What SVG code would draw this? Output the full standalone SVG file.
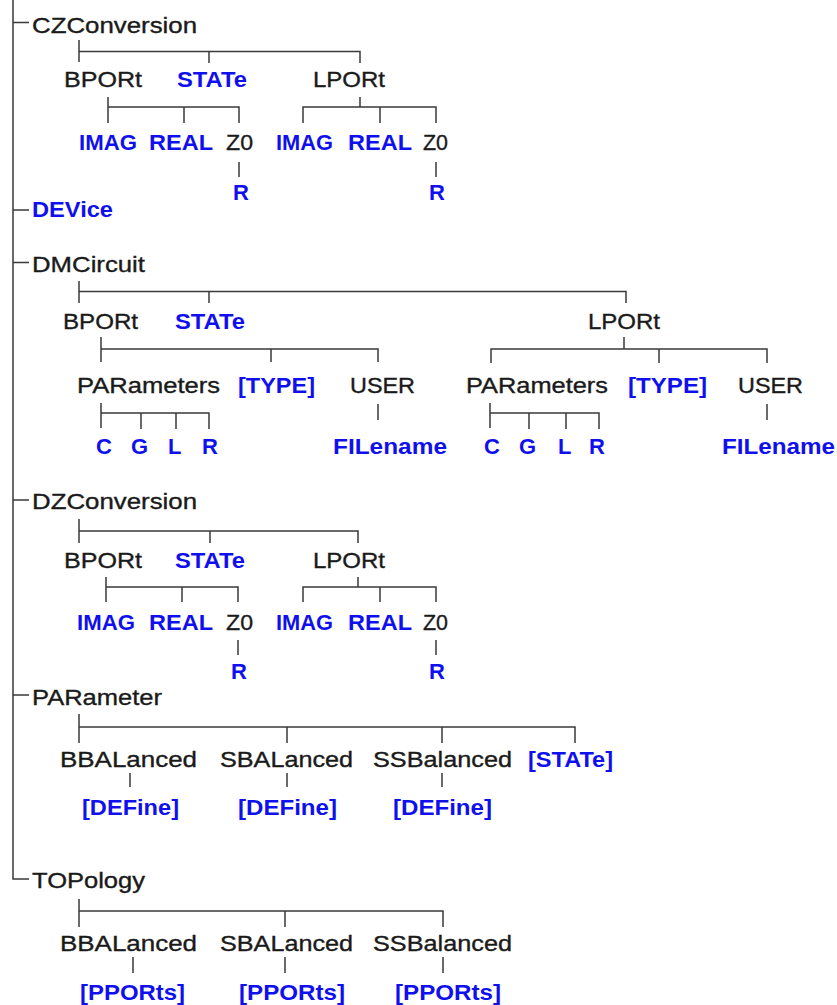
<svg xmlns="http://www.w3.org/2000/svg" width="837" height="1005" viewBox="0 0 837 1005">
<style>
text{font-family:"Liberation Sans",Arial,sans-serif;font-size:22px}
.k{fill:#1a1a1a;stroke:#1a1a1a;stroke-width:0.35}
.b{fill:#1010ee;font-weight:bold}
#connectors path{fill:none;stroke:#3a3a3a;stroke-width:1.5}
</style>
<rect width="837" height="1005" fill="#ffffff"/>
<g id="connectors">
<path d="M13 0V879H29M13 22.5H29M13 210H29M13 262.5H29M13 500H29M13 695H29"/>
<path d="M79 40V62M79 51.5H360V63M209 51.5V63"/>
<path d="M108 97V123M108 107H239V123M184 107V123"/>
<path d="M360 97V107M303 123V107H436V123M380 107V123"/>
<path d="M239 162V177M436 162V177"/>
<path d="M79 281V303M79 291.5H626V303M209 291.5V303"/>
<path d="M101 337V362M101 349H378V362M271 349V362"/>
<path d="M624 337V349M491 363V349H767V363M659 349V363"/>
<path d="M101 403V428M101 413H209V429M141 413V429M176 413V429"/>
<path d="M490 403V428M490 413H599V429M529 413V429M566 413V429"/>
<path d="M378 404V420M767 404V420"/>
<path d="M79 519V543M79 531H358V543M210 531V543"/>
<path d="M106 577V602M106 587H238V602M182 587V602"/>
<path d="M358 577V587M303 602V587H436V602M380 587V602"/>
<path d="M238 640V655M436 640V655"/>
<path d="M79 714V743M79 727H575V743M287 727V743M442 727V743"/>
<path d="M130 773V787M287 773V787M442 773V787"/>
<path d="M79 899V927M79 911H443V927M285 911V927"/>
<path d="M133 957V973M285 957V973M443 957V973"/>
</g>
<g id="czconversion"><text class="k" x="32" y="33" textLength="165" lengthAdjust="spacingAndGlyphs">CZConversion</text></g>
<g id="cz-bport"><text class="k" x="64" y="87" textLength="78" lengthAdjust="spacingAndGlyphs">BPORt</text></g>
<g id="cz-state"><text class="b" x="177" y="87" textLength="70" lengthAdjust="spacingAndGlyphs">STATe</text></g>
<g id="cz-lport"><text class="k" x="313" y="87" textLength="72" lengthAdjust="spacingAndGlyphs">LPORt</text></g>
<g id="cz-b-imag"><text class="b" x="79" y="150" textLength="58" lengthAdjust="spacingAndGlyphs">IMAG</text></g>
<g id="cz-b-real"><text class="b" x="149" y="150" textLength="64" lengthAdjust="spacingAndGlyphs">REAL</text></g>
<g id="cz-b-z0"><text class="k" x="226" y="150" textLength="27" lengthAdjust="spacingAndGlyphs">Z0</text></g>
<g id="cz-l-imag"><text class="b" x="276" y="150" textLength="57" lengthAdjust="spacingAndGlyphs">IMAG</text></g>
<g id="cz-l-real"><text class="b" x="348" y="150" textLength="64" lengthAdjust="spacingAndGlyphs">REAL</text></g>
<g id="cz-l-z0"><text class="k" x="423" y="150" textLength="25" lengthAdjust="spacingAndGlyphs">Z0</text></g>
<g id="cz-b-r"><text class="b" x="233" y="200">R</text></g>
<g id="cz-l-r"><text class="b" x="429" y="200">R</text></g>
<g id="device"><text class="b" x="32" y="217" textLength="81" lengthAdjust="spacingAndGlyphs">DEVice</text></g>
<g id="dmcircuit"><text class="k" x="32" y="272" textLength="113" lengthAdjust="spacingAndGlyphs">DMCircuit</text></g>
<g id="dm-bport"><text class="k" x="63" y="329" textLength="75" lengthAdjust="spacingAndGlyphs">BPORt</text></g>
<g id="dm-state"><text class="b" x="175" y="329" textLength="70" lengthAdjust="spacingAndGlyphs">STATe</text></g>
<g id="dm-lport"><text class="k" x="588" y="329" textLength="72" lengthAdjust="spacingAndGlyphs">LPORt</text></g>
<g id="dm-b-parameters"><text class="k" x="77" y="393" textLength="143" lengthAdjust="spacingAndGlyphs">PARameters</text></g>
<g id="dm-b-type"><text class="b" x="238" y="393" textLength="77" lengthAdjust="spacingAndGlyphs">[TYPE]</text></g>
<g id="dm-b-user"><text class="k" x="350" y="393" textLength="65" lengthAdjust="spacingAndGlyphs">USER</text></g>
<g id="dm-l-parameters"><text class="k" x="466" y="393" textLength="142" lengthAdjust="spacingAndGlyphs">PARameters</text></g>
<g id="dm-l-type"><text class="b" x="628" y="393" textLength="79" lengthAdjust="spacingAndGlyphs">[TYPE]</text></g>
<g id="dm-l-user"><text class="k" x="738" y="393" textLength="65" lengthAdjust="spacingAndGlyphs">USER</text></g>
<g id="dm-b-c"><text class="b" x="96" y="454">C</text></g>
<g id="dm-b-g"><text class="b" x="131" y="454">G</text></g>
<g id="dm-b-l"><text class="b" x="168" y="454">L</text></g>
<g id="dm-b-r"><text class="b" x="202" y="454">R</text></g>
<g id="dm-b-filename"><text class="b" x="333" y="454" textLength="114" lengthAdjust="spacingAndGlyphs">FILename</text></g>
<g id="dm-l-c"><text class="b" x="484" y="454">C</text></g>
<g id="dm-l-g"><text class="b" x="519" y="454">G</text></g>
<g id="dm-l-l"><text class="b" x="558" y="454">L</text></g>
<g id="dm-l-r"><text class="b" x="589" y="454">R</text></g>
<g id="dm-l-filename"><text class="b" x="722" y="454" textLength="113" lengthAdjust="spacingAndGlyphs">FILename</text></g>
<g id="dzconversion"><text class="k" x="32" y="509" textLength="165" lengthAdjust="spacingAndGlyphs">DZConversion</text></g>
<g id="dz-bport"><text class="k" x="64" y="568" textLength="78" lengthAdjust="spacingAndGlyphs">BPORt</text></g>
<g id="dz-state"><text class="b" x="175" y="568" textLength="70" lengthAdjust="spacingAndGlyphs">STATe</text></g>
<g id="dz-lport"><text class="k" x="313" y="568" textLength="72" lengthAdjust="spacingAndGlyphs">LPORt</text></g>
<g id="dz-b-imag"><text class="b" x="77" y="630" textLength="58" lengthAdjust="spacingAndGlyphs">IMAG</text></g>
<g id="dz-b-real"><text class="b" x="149" y="630" textLength="64" lengthAdjust="spacingAndGlyphs">REAL</text></g>
<g id="dz-b-z0"><text class="k" x="226" y="630" textLength="27" lengthAdjust="spacingAndGlyphs">Z0</text></g>
<g id="dz-l-imag"><text class="b" x="276" y="630" textLength="57" lengthAdjust="spacingAndGlyphs">IMAG</text></g>
<g id="dz-l-real"><text class="b" x="348" y="630" textLength="64" lengthAdjust="spacingAndGlyphs">REAL</text></g>
<g id="dz-l-z0"><text class="k" x="423" y="630" textLength="25" lengthAdjust="spacingAndGlyphs">Z0</text></g>
<g id="dz-b-r"><text class="b" x="231" y="679">R</text></g>
<g id="dz-l-r"><text class="b" x="429" y="679">R</text></g>
<g id="parameter"><text class="k" x="32" y="705" textLength="130" lengthAdjust="spacingAndGlyphs">PARameter</text></g>
<g id="pa-bbalanced"><text class="k" x="60" y="767" textLength="137" lengthAdjust="spacingAndGlyphs">BBALanced</text></g>
<g id="pa-sbalanced"><text class="k" x="220" y="767" textLength="133" lengthAdjust="spacingAndGlyphs">SBALanced</text></g>
<g id="pa-ssbalanced"><text class="k" x="373" y="767" textLength="139" lengthAdjust="spacingAndGlyphs">SSBalanced</text></g>
<g id="pa-state"><text class="b" x="528" y="767" textLength="85" lengthAdjust="spacingAndGlyphs">[STATe]</text></g>
<g id="pa-bb-define"><text class="b" x="82" y="815" textLength="97" lengthAdjust="spacingAndGlyphs">[DEFine]</text></g>
<g id="pa-sb-define"><text class="b" x="238" y="815" textLength="99" lengthAdjust="spacingAndGlyphs">[DEFine]</text></g>
<g id="pa-ss-define"><text class="b" x="393" y="815" textLength="99" lengthAdjust="spacingAndGlyphs">[DEFine]</text></g>
<g id="topology"><text class="k" x="32" y="888" textLength="113" lengthAdjust="spacingAndGlyphs">TOPology</text></g>
<g id="to-bbalanced"><text class="k" x="60" y="951" textLength="137" lengthAdjust="spacingAndGlyphs">BBALanced</text></g>
<g id="to-sbalanced"><text class="k" x="220" y="951" textLength="133" lengthAdjust="spacingAndGlyphs">SBALanced</text></g>
<g id="to-ssbalanced"><text class="k" x="373" y="951" textLength="139" lengthAdjust="spacingAndGlyphs">SSBalanced</text></g>
<g id="to-bb-pports"><text class="b" x="80" y="1000" textLength="105" lengthAdjust="spacingAndGlyphs">[PPORts]</text></g>
<g id="to-sb-pports"><text class="b" x="239" y="1000" textLength="106" lengthAdjust="spacingAndGlyphs">[PPORts]</text></g>
<g id="to-ss-pports"><text class="b" x="395" y="1000" textLength="106" lengthAdjust="spacingAndGlyphs">[PPORts]</text></g>
</svg>
